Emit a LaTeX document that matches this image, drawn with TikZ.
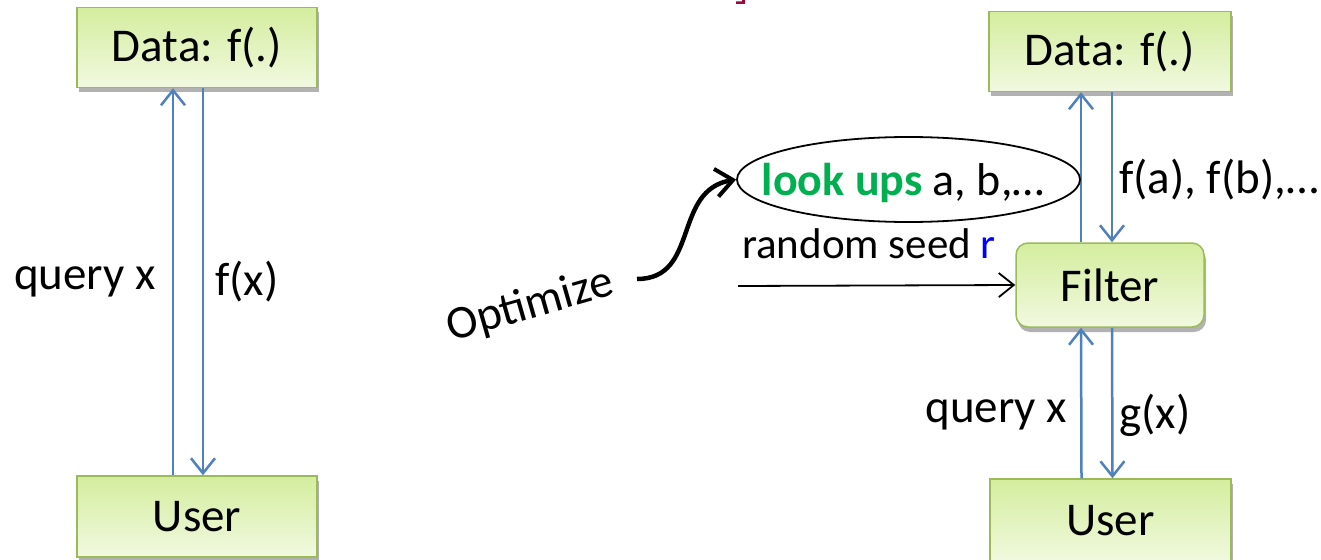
\documentclass[tikz,border=0pt]{standalone}
\usepackage{fontspec}
\setmainfont{Carlito}
\usetikzlibrary{arrows.meta,shapes.geometric,shadows,calc}

\definecolor{boxline}{RGB}{155,187,89}
\definecolor{boxtop}{RGB}{212,237,158}
\definecolor{boxbot}{RGB}{241,249,224}
\definecolor{flow}{RGB}{79,129,189}
\definecolor{lookgreen}{RGB}{0,176,80}
\definecolor{seedblue}{RGB}{0,0,255}
\definecolor{titlered}{RGB}{150,10,60}

\tikzset{
  box/.style={draw=boxline, line width=1.5pt, top color=boxtop, bottom color=boxbot,
    drop shadow={shadow xshift=2pt, shadow yshift=-5pt, opacity=0.3, fill=black},
    minimum width=240pt, minimum height=80pt, inner sep=0pt,
    font=\fontsize{47}{50}\selectfont},
  flowarrow/.style={draw=flow, line width=2.5pt,
    -{Straight Barb[length=15pt,width=24pt,line width=2.5pt]}},
  lbl/.style={font=\fontsize{47}{50}\selectfont, inner sep=0pt},
}

\begin{document}
\begin{tikzpicture}[x=1pt, y=-1pt]
\clip (0,0) rectangle (1321,559);
\fill[white] (0,0) rectangle (1321,559);

% clipped fragment of the heading
\fill[titlered] (736,1.5) -- (742,1.5) -- (742,0) -- (745,0) -- (745,4) -- (736,4) -- cycle;

% ---- direct access ----
\node[box] (ld) at (197,47.5) {Data: f(.)};
\node[box, minimum height=81pt] (lu) at (197,516.5) {User};
\draw[flowarrow] ([xshift=-24pt]lu.north) -- ([xshift=-24pt]ld.south)
  node[lbl, midway, left=16pt] {query x};
\draw[flowarrow] ([xshift=6pt]ld.south) -- ([xshift=6pt]lu.north)
  node[lbl, midway, right=11pt] {f(x)};

% ---- access through a filter ----
\node[box, minimum width=242pt] (rd) at (1110,51.5) {Data: f(.)};
\node[box, minimum width=188pt, minimum height=84pt, rounded corners=12pt] (filter) at (1110,285) {Filter};
\node[box, minimum width=241pt, minimum height=84pt] (ru) at (1110.5,521) {User};

\draw[flowarrow] ([xshift=-29pt]filter.north) -- ([xshift=-29pt]rd.south);
\draw[flowarrow] ([xshift=2pt]rd.south) -- ([xshift=2pt]filter.north)
  node[lbl, pos=0.58, right=6pt] {f(a), f(b),…};
\draw[flowarrow] ([xshift=-29pt]ru.north) -- ([xshift=-29pt]filter.south)
  node[lbl, pos=0.42, left=13pt] {query x};
\draw[flowarrow] ([xshift=2pt]filter.south) -- ([xshift=2pt]ru.north)
  node[lbl, pos=0.58, right=6pt] {g(x)};

% look-ups chosen by the filter
\node[ellipse, draw, line width=1.8pt, minimum width=343pt, minimum height=85pt,
  inner sep=0pt] (look) at (908.5,179.5) {};
\node[anchor=base, inner sep=0pt, font=\fontsize{46}{50}\selectfont] (looktext) at (903,195)
  {\textbf{\color{lookgreen}look ups} a, b,…};

% random seed input
\coordinate (seed) at (738,286);
\draw[line width=1.8pt, -{Straight Barb[length=15pt,width=24pt,line width=1.8pt]}]
  (seed) -- (filter.west);
\node[anchor=base, inner sep=0pt, font=\fontsize{43}{46}\selectfont] (seedlbl)
  at (869,258) {random seed \textcolor{seedblue}{r}};

% optimize annotation
\node[lbl, rotate=16] (opt) at (530,306) {Optimize};
\coordinate (optend) at (637,279);
\draw[line width=4.5pt, -{Straight Barb[length=17pt,width=28pt,line width=4pt]}]
  (optend) .. controls (700,279) and (672,190) .. (look.west);
\end{tikzpicture}
\end{document}
